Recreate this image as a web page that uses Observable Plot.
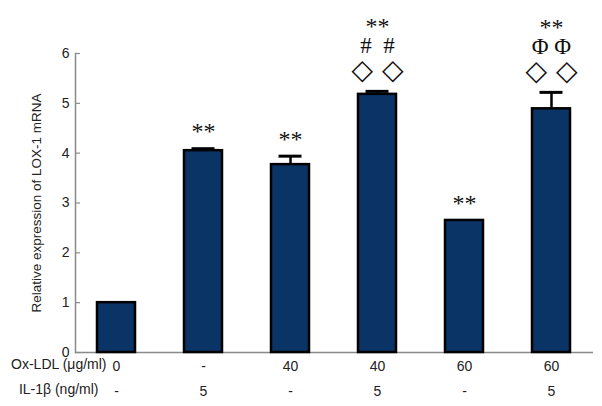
<!DOCTYPE html>
<html>
<head>
<meta charset="utf-8">
<script src="https://cdn.jsdelivr.net/npm/d3@7"></script>
<script src="https://cdn.jsdelivr.net/npm/@observablehq/plot@0.6"></script>
<style>
  html, body { margin: 0; padding: 0; background: #fff; }
  #chart { width: 602px; height: 406px; }
  svg { display: block; }
</style>
</head>
<body>
<div id="chart"></div>
<script>
const groups = ["G1", "G2", "G3", "G4", "G5", "G6"];
const oxLdl = ["0", "-", "40", "40", "60", "60"];
const il1b = ["-", "5", "-", "5", "-", "5"];
const means = [1.0, 4.05, 3.77, 5.18, 2.65, 4.89];
const errors = [0, 0.04, 0.17, 0.06, 0, 0.33];
const sigStars = ["", "**", "**", "**", "**", "**"];
const sigSecond = ["", "", "", "#\u2002#", "", "Φ Φ"];
const sigThird = ["", "", "", "◇ ◇", "", "◇ ◇"];
const yTicks = [0, 1, 2, 3, 4, 5, 6];
const yLabel = "Relative expression of LOX-1 mRNA";
const rowTitles = ["Ox-LDL (μg/ml)", "IL-1β (ng/ml)"];

const data = groups.map((g, i) => ({
  group: g, mean: means[i], err: errors[i], top: means[i] + errors[i],
  stars: sigStars[i], second: sigSecond[i], third: sigThird[i]
}));
const withErr = data.filter(d => d.err > 0);
const starsOnly = data.filter(d => d.stars && !d.second);
const multi = data.filter(d => d.second);

const navy = "#0a3466";
const gray = "#8a8a8a";
const sans = "Liberation Sans, Arial, sans-serif";
const serif = "Liberation Serif, Times New Roman, serif";

const chart = Plot.plot({
  width: 602,
  height: 406,
  marginLeft: 75,
  marginRight: 9,
  marginTop: 53,
  marginBottom: 54,
  style: { fontFamily: sans, fontSize: "14px", color: "#222", background: "#fff" },
  x: { domain: groups, paddingInner: 0.56, paddingOuter: 0.25, axis: null },
  y: { domain: [0, 6], axis: null },
  marks: [
    Plot.frame({ anchor: "left", stroke: gray, strokeWidth: 1.5 }),
    Plot.ruleY([0], { stroke: gray, strokeWidth: 1.5 }),
    Plot.axisY({ ticks: yTicks, tickSize: -5, tickPadding: 11, stroke: gray, strokeWidth: 1.2, fontSize: 14, fill: "#222", label: null, tickFormat: d => String(d) }),
    Plot.text([yLabel], { frameAnchor: "left", textAnchor: "middle", rotate: -90, dx: -39, fontSize: 13.5, fill: "#222" }),
    Plot.barY(data, { x: "group", y: "mean", fill: navy, stroke: "#000", strokeWidth: 2.5 }),
    Plot.ruleX(withErr, { x: "group", y1: "mean", y2: "top", stroke: "#000", strokeWidth: 2.5 }),
    Plot.tickY(withErr, { x: "group", y: "top", stroke: "#000", strokeWidth: 3, insetLeft: 7.5, insetRight: 7.5 }),
    Plot.text(starsOnly, { x: "group", y: "top", text: "stars", dy: -17, fontSize: 24, fontFamily: serif, fill: "#111" }),
    Plot.text(multi, { x: "group", y: "top", text: "stars", dy: -65, fontSize: 24, fontFamily: serif, fill: "#111" }),
    Plot.text(multi, { x: "group", y: "top", text: "second", dy: -46, fontSize: 23, fontFamily: serif, fill: "#111" }),
    Plot.text(multi, { x: "group", y: "top", text: "third", dy: -21, fontSize: 28, fontFamily: "DejaVu Sans, sans-serif", fill: "#111" }),
    Plot.axisX({ tickSize: 0, tickPadding: 9, fontSize: 14, fill: "#222", label: null, tickFormat: d => oxLdl[groups.indexOf(d)] }),
    Plot.axisX({ tickSize: 0, tickPadding: 34, fontSize: 14, fill: "#222", label: null, tickFormat: d => il1b[groups.indexOf(d)] }),
    Plot.text([rowTitles[0]], { frameAnchor: "bottom-left", textAnchor: "end", dx: 31, dy: 16, fontSize: 14, fill: "#222" }),
    Plot.text([rowTitles[1]], { frameAnchor: "bottom-left", textAnchor: "end", dx: 23, dy: 41, fontSize: 14, fill: "#222" })
  ]
});
document.getElementById("chart").appendChild(chart);
</script>
</body>
</html>
